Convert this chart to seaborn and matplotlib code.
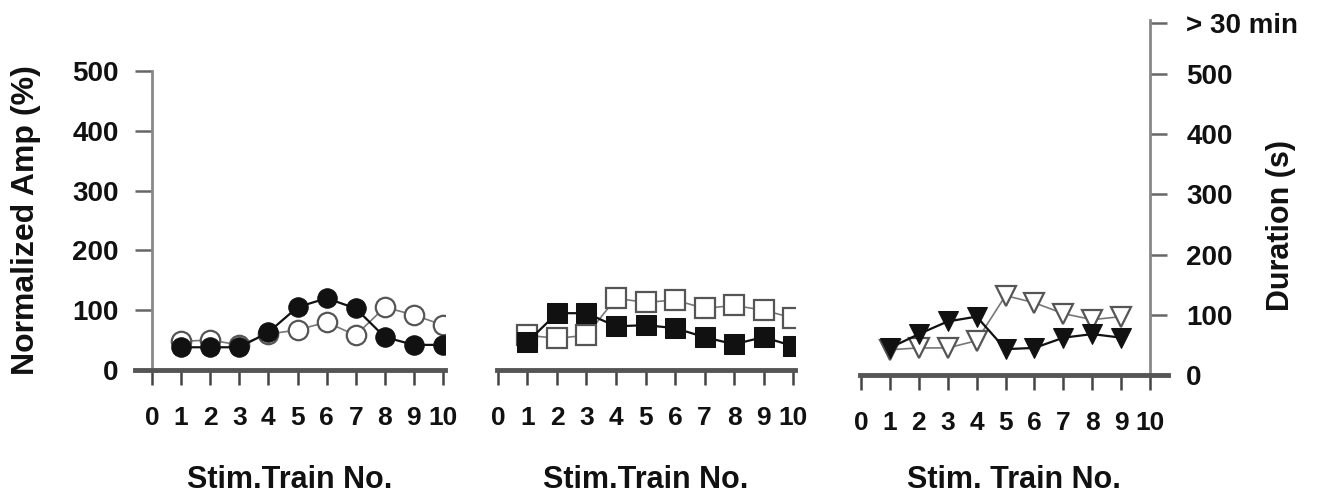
import numpy as np
import pandas as pd
import matplotlib
matplotlib.use('Agg')
import matplotlib.pyplot as plt
import seaborn as sns

# values
trains_a = [1, 2, 3, 4, 5, 6, 7, 8, 9, 10]
amp_filled = [38, 38, 38, 63, 105, 120, 103, 55, 42, 42]
amp_open = [48, 50, 42, 60, 67, 80, 58, 105, 92, 75]

trains_b = [1, 2, 3, 4, 5, 6, 7, 8, 9, 10]
sq_filled = [47, 95, 95, 73, 75, 70, 55, 43, 55, 40]
sq_open = [58, 53, 58, 120, 113, 117, 103, 108, 100, 87]

trains_c = [1, 2, 3, 4, 5, 6, 7, 8, 9]
dur_filled = [45, 68, 89, 97, 43, 45, 62, 68, 62]
dur_open = [42, 45, 45, 57, 132, 120, 102, 92, 97]

x_ticks = list(range(0, 11))
amp_ticks = [0, 100, 200, 300, 400, 500]
dur_ticks = [0, 100, 200, 300, 400, 500, 585]
dur_ticklabels = ['0', '100', '200', '300', '400', '500', '> 30 min']

sns.set_style('ticks')
plt.rcParams['font.family'] = ['Liberation Sans', 'DejaVu Sans']
plt.rcParams['font.weight'] = 'bold'

W, H = 1324, 495
fig = plt.figure(figsize=(13.24, 4.95), dpi=100)


def px_axes(left, right, bottom, top):
    return fig.add_axes([left / W, 1 - bottom / H, (right - left) / W, (bottom - top) / H])


ax1 = px_axes(134.5, 444.5, 370, 71)
ax2 = px_axes(496.5, 794.5, 370, 71)
ax3 = px_axes(859.5, 1167.5, 375, 20)

ink = '#111111'
open_edge = '#555555'


def draw(ax, x, filled, opened, marker, ms):
    df_o = pd.DataFrame({'x': x, 'y': opened})
    df_f = pd.DataFrame({'x': x, 'y': filled})
    sns.lineplot(data=df_o, x='x', y='y', ax=ax, color='#777777', lw=1.2,
                 marker=marker, markersize=ms, markerfacecolor='white',
                 markeredgecolor=open_edge, markeredgewidth=1.6, zorder=3)
    sns.lineplot(data=df_f, x='x', y='y', ax=ax, color=ink, lw=1.6,
                 marker=marker, markersize=ms, markerfacecolor=ink,
                 markeredgecolor=ink, zorder=4)


draw(ax1, trains_a, amp_filled, amp_open, 'o', 14)
draw(ax2, trains_b, sq_filled, sq_open, 's', 14)
draw(ax3, trains_c, dur_filled, dur_open, 'v', 14)

for ax, label in ((ax1, 'Stim.Train No.'), (ax2, 'Stim.Train No.'), (ax3, 'Stim. Train No.')):
    ax.set_xticks(x_ticks)
    ax.set_xticklabels([str(t) for t in x_ticks])
    ax.tick_params(axis='x', direction='out', length=11, width=1.8, pad=15,
                   labelsize=19, colors='#444444', labelcolor=ink)
    ax.spines['bottom'].set_color('#555555')
    ax.spines['bottom'].set_linewidth(3.5)
    ax.spines['top'].set_visible(False)
    ax.spines['right'].set_visible(False)
    ax.set_xlabel(label, fontsize=22, fontweight='bold', color=ink)
    ax.patch.set_alpha(0)

# x labels: top edge near y=465 px
ax1.xaxis.set_label_coords(0.5, -95 / 299)
ax2.xaxis.set_label_coords(0.5, -95 / 299)
ax3.xaxis.set_label_coords(0.5, -90 / 355)

# panel 1: amplitude axis on the left
ax1.set_xlim(-0.6, 10.05)
ax1.set_ylim(0, 500)
ax1.spines['left'].set_position(('data', 0))
ax1.spines['left'].set_color('#888888')
ax1.spines['left'].set_linewidth(2)
ax1.set_yticks(amp_ticks)
ax1.tick_params(axis='y', direction='out', length=12, width=1.8, pad=12,
                labelsize=20, colors='#666666', labelcolor=ink)
ax1.set_ylabel('Normalized Amp (%)', fontsize=23, fontweight='bold', color=ink)
ax1.yaxis.set_label_coords(-0.30, 0.5)

# panel 2: no vertical axis
ax2.set_xlim(-0.05, 10.05)
ax2.set_ylim(0, 500)
ax2.spines['left'].set_visible(False)
ax2.set_yticks([])
ax2.set_ylabel('')

# panel 3: duration axis on the right
ax3.set_xlim(-0.05, 10.6)
ax3.set_ylim(0, 590)
ax3.spines['left'].set_visible(False)
ax3.spines['right'].set_visible(True)
ax3.spines['right'].set_position(('data', 10))
ax3.spines['right'].set_color('#888888')
ax3.spines['right'].set_linewidth(2)
ax3.yaxis.tick_right()
ax3.set_yticks(dur_ticks)
ax3.set_yticklabels(dur_ticklabels)
ax3.tick_params(axis='y', direction='out', length=12, width=1.8, pad=14,
                labelsize=20, colors='#666666', labelcolor=ink)
ax3.yaxis.set_label_position('right')
ax3.set_ylabel('Duration (s)', fontsize=22, fontweight='bold', color=ink, rotation=90)
ax3.yaxis.set_label_coords(1.32, 0.42)

fig.savefig('out.png', dpi=100)
